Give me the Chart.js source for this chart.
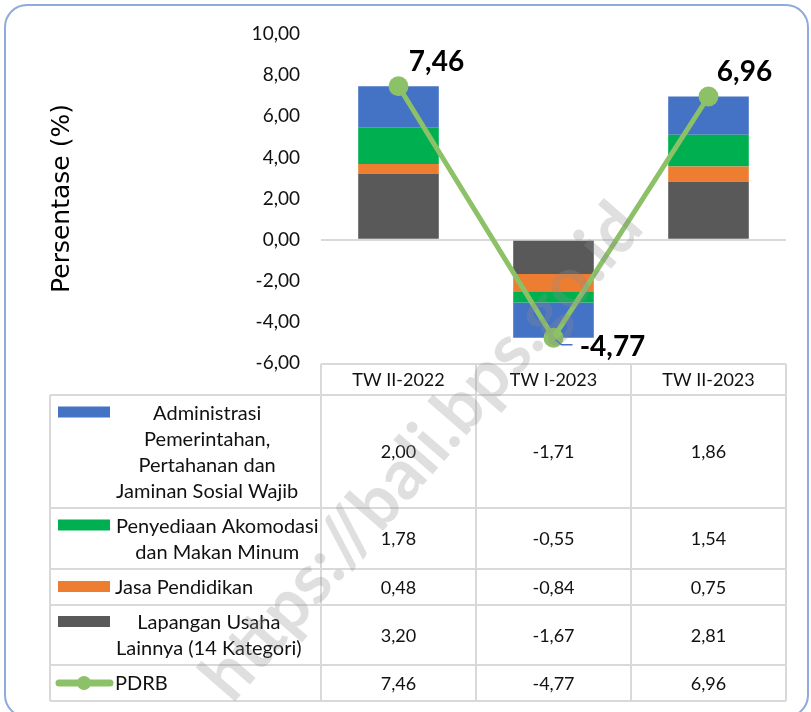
<!DOCTYPE html>
<html><head><meta charset="utf-8">
<script src="https://cdn.jsdelivr.net/npm/chart.js@4.4.1/dist/chart.umd.min.js"></script>
<style>html,body{margin:0;padding:0;background:#fff;}#wrap{width:811px;height:712px;}</style>
</head><body><div id="wrap"><canvas id="c" width="811" height="712"></canvas></div>
<script>
const categories = ['TW II-2022', 'TW I-2023', 'TW II-2023'];
const administrasi = [2.00, -1.71, 1.86];
const penyediaan = [1.78, -0.55, 1.54];
const pendidikan = [0.48, -0.84, 0.75];
const lainnya = [3.20, -1.67, 2.81];
const pdrb = [7.46, -4.77, 6.96];
const labelAdministrasi = ['Administrasi', 'Pemerintahan,', 'Pertahanan dan', 'Jaminan Sosial Wajib'];
const labelPenyediaan = ['Penyediaan Akomodasi', 'dan Makan Minum'];
const labelPendidikan = ['Jasa Pendidikan'];
const labelLainnya = ['Lapangan Usaha', 'Lainnya (14 Kategori)'];
const labelPdrb = ['PDRB'];
const yAxisTitle = 'Persentase (%)';
const watermark = 'https://bali.bps.go.id';

const C_BLUE = '#4472C4', C_GREEN = '#00B050', C_ORANGE = '#ED7D31', C_GRAY = '#595959', C_LINE = '#8CC168';
const fmt = v => v.toFixed(2).replace('.', ',');

const tableRows = [
  {lines: labelAdministrasi, color: C_BLUE, data: administrasi},
  {lines: labelPenyediaan, color: C_GREEN, data: penyediaan},
  {lines: labelPendidikan, color: C_ORANGE, data: pendidikan},
  {lines: labelLainnya, color: C_GRAY, data: lainnya},
  {lines: labelPdrb, color: C_LINE, data: pdrb, isLine: true}
];
const rowEdges = [395, 508, 569, 605, 665, 701];
const headerTop = 364, tableLeft = 50;
const FONT = 'Lato, "Open Sans", sans-serif';

const framePlugin = {
  id: 'frame',
  beforeDraw(chart) {
    const ctx = chart.ctx;
    ctx.save();
    ctx.fillStyle = '#fff';
    ctx.fillRect(0, 0, chart.width, chart.height);
    ctx.strokeStyle = '#8FAADC';
    ctx.lineWidth = 2;
    ctx.beginPath();
    ctx.roundRect(5, 5, 803, 712, 22);
    ctx.stroke();
    ctx.restore();
  }
};

const labelPlugin = {
  id: 'pointLabels',
  afterDatasetsDraw(chart) {
    const ctx = chart.ctx;
    const meta = chart.getDatasetMeta(4);
    const offs = [[38, -24], [59, 9], [36, -25]];
    ctx.save();
    ctx.font = 'bold 28px ' + FONT;
    ctx.fillStyle = '#000';
    ctx.textAlign = 'center';
    ctx.textBaseline = 'middle';
    meta.data.forEach((p, i) => {
      ctx.fillText(fmt(pdrb[i]), p.x + offs[i][0], p.y + offs[i][1]);
      if (pdrb[i] < 0) {
        ctx.strokeStyle = C_BLUE;
        ctx.lineWidth = 1.5;
        ctx.beginPath();
        ctx.moveTo(p.x + 2, p.y + 2);
        ctx.lineTo(p.x + 8, p.y + 7);
        ctx.lineTo(p.x + 19, p.y + 7);
        ctx.stroke();
      }
    });
    ctx.restore();
  }
};

const tablePlugin = {
  id: 'dataTable',
  afterDraw(chart) {
    const ctx = chart.ctx;
    const xs = chart.scales.x;
    const edges = [xs.left];
    for (let i = 0; i < categories.length - 1; i++) {
      edges.push((xs.getPixelForValue(i) + xs.getPixelForValue(i + 1)) / 2);
    }
    edges.push(xs.right);
    const right = edges[edges.length - 1];
    ctx.save();
    ctx.strokeStyle = '#D9D9D9';
    ctx.lineWidth = 2;
    ctx.beginPath();
    ctx.moveTo(edges[0], headerTop); ctx.lineTo(right, headerTop);
    rowEdges.forEach(y => { ctx.moveTo(tableLeft, y); ctx.lineTo(right, y); });
    ctx.moveTo(tableLeft, rowEdges[0]); ctx.lineTo(tableLeft, rowEdges[rowEdges.length - 1]);
    edges.forEach(x => { ctx.moveTo(x, headerTop); ctx.lineTo(x, rowEdges[rowEdges.length - 1]); });
    ctx.stroke();

    ctx.fillStyle = '#111';
    ctx.font = '18px ' + FONT;
    ctx.textAlign = 'center';
    ctx.textBaseline = 'middle';
    categories.forEach((c, i) => {
      ctx.fillText(c, xs.getPixelForValue(i), (headerTop + rowEdges[0]) / 2 + 1);
    });
    tableRows.forEach((r, ri) => {
      const yc = (rowEdges[ri] + rowEdges[ri + 1]) / 2;
      ctx.font = '18px ' + FONT;
      r.data.forEach((v, i) => {
        ctx.fillText(fmt(v), xs.getPixelForValue(i), yc + 1);
      });
      const n = r.lines.length;
      const firstY = yc - (n - 1) * 13;
      if (r.isLine) {
        ctx.strokeStyle = r.color;
        ctx.lineWidth = 7;
        ctx.lineCap = 'round';
        ctx.beginPath(); ctx.moveTo(59, firstY); ctx.lineTo(110, firstY); ctx.stroke();
        ctx.fillStyle = r.color;
        ctx.beginPath(); ctx.arc(84, firstY, 7, 0, Math.PI * 2); ctx.fill();
      } else {
        ctx.fillStyle = r.color;
        ctx.fillRect(58, firstY - 6, 52, 11);
      }
      ctx.fillStyle = '#111';
      ctx.font = '20px ' + FONT;
      if (n === 1) {
        ctx.textAlign = 'left';
        ctx.fillText(r.lines[0], 115, firstY + 1);
      } else {
        const w = Math.max(...r.lines.map(l => ctx.measureText(l).width));
        const cx = Math.max(206, 116 + w / 2);
        ctx.textAlign = 'center';
        r.lines.forEach((l, k) => ctx.fillText(l, cx, firstY + k * 26 + 1));
      }
      ctx.textAlign = 'center';
    });

    // watermark
    ctx.translate(422, 452);
    ctx.rotate(-49 * Math.PI / 180);
    ctx.font = 'bold 70px ' + FONT;
    ctx.fillStyle = 'rgba(140,140,140,0.28)';
    ctx.textAlign = 'center';
    ctx.fillText(watermark, 0, 0);
    ctx.restore();
  }
};

new Chart(document.getElementById('c'), {
  data: {
    labels: categories,
    datasets: [
      {type: 'bar', label: labelLainnya.join(' '), data: lainnya, backgroundColor: C_GRAY, order: 1},
      {type: 'bar', label: labelPendidikan.join(' '), data: pendidikan, backgroundColor: C_ORANGE, order: 1},
      {type: 'bar', label: labelPenyediaan.join(' '), data: penyediaan, backgroundColor: C_GREEN, order: 1},
      {type: 'bar', label: labelAdministrasi.join(' '), data: administrasi, backgroundColor: C_BLUE, order: 1},
      {type: 'line', label: 'PDRB', data: pdrb, stack: 'pdrb', borderColor: C_LINE, backgroundColor: C_LINE,
       borderWidth: 5, pointRadius: 10, pointBorderWidth: 0, pointBackgroundColor: C_LINE, tension: 0, order: 0}
    ]
  },
  options: {
    responsive: false,
    animation: false,
    layout: {padding: {left: 0, top: 34, right: 25, bottom: 349}},
    datasets: {bar: {categoryPercentage: 1, barPercentage: 0.52}},
    plugins: {legend: {display: false}, tooltip: {enabled: false}},
    scales: {
      x: {stacked: true, display: false},
      y: {
        stacked: true, min: -6, max: 10,
        afterFit: s => { s.width = 321; },
        ticks: {stepSize: 2, callback: v => fmt(v), font: {family: FONT, size: 19}, color: '#111', padding: 21},
        grid: {drawTicks: false, lineWidth: 2, color: c => (c.tick && c.tick.value === 0) ? '#D9D9D9' : 'rgba(0,0,0,0)'},
        border: {display: false},
        title: {display: true, text: yAxisTitle, font: {family: 'DejaVu Sans', size: 25}, color: '#000', padding: {top: 47, bottom: 0}}
      }
    }
  },
  plugins: [framePlugin, labelPlugin, tablePlugin]
});
</script>
</body></html>
